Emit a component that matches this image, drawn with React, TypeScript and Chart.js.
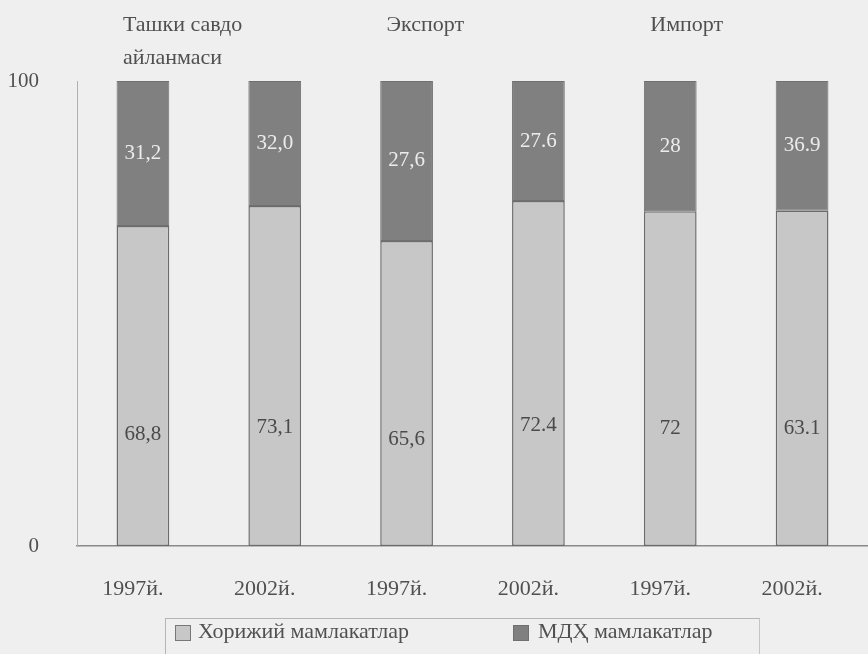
import React, { useEffect, useRef } from "react";
import { Chart, registerables } from "chart.js";

Chart.register(...registerables);

// ---- data ----
const categories = ["1997й.", "2002й.", "1997й.", "2002й.", "1997й.", "2002й."];
const groupTitles = [["Ташки савдо", "айланмаси"], ["Экспорт"], ["Импорт"]];
const groupStartIndex = [0, 2, 4];
const seriesNames = ["Хорижий мамлакатлар", "МДҲ мамлакатлар"];
// segment heights as drawn (percent of the 0–100 axis)
const foreignValues = [68.8, 73.1, 65.6, 74.2, 72, 72.1];
const cisValues = [31.2, 26.9, 34.4, 25.8, 28, 27.9];
// labels as printed on the bars
const foreignLabels = ["68,8", "73,1", "65,6", "72.4", "72", "63.1"];
const cisLabels = ["31,2", "32,0", "27,6", "27.6", "28", "36.9"];
const yMin = 0;
const yMax = 100;

const FONT = "'Liberation Serif', 'DejaVu Serif', serif";
const TEXT = "#505050";
const LIGHT = "#c7c7c7";
const DARK = "#808080";

const headerPlugin = {
  id: "groupHeaders",
  afterDraw(chart: any) {
    const ctx = chart.ctx;
    const xs = chart.scales.x;
    ctx.save();
    ctx.font = `22px ${FONT}`;
    ctx.fillStyle = TEXT;
    ctx.textAlign = "left";
    ctx.textBaseline = "middle";
    groupTitles.forEach((lines, g) => {
      const x = xs.getPixelForValue(groupStartIndex[g]) - 20;
      lines.forEach((line, i) => ctx.fillText(line, x, 25 + i * 33));
    });
    ctx.restore();
  },
};

const valueLabelPlugin = {
  id: "valueLabels",
  afterDatasetsDraw(chart: any) {
    const ctx = chart.ctx;
    ctx.save();
    ctx.font = `21px ${FONT}`;
    ctx.textAlign = "center";
    ctx.textBaseline = "middle";
    chart.data.datasets.forEach((ds: any, di: number) => {
      const meta = chart.getDatasetMeta(di);
      meta.data.forEach((bar: any, i: number) => {
        const top = bar.y;
        const base = bar.base;
        if (di === 0) {
          ctx.fillStyle = "#4a4a4a";
          ctx.fillText(foreignLabels[i], bar.x, base - 0.35 * (base - top));
        } else {
          ctx.fillStyle = "#ececec";
          ctx.fillText(cisLabels[i], bar.x, (top + base) / 2);
        }
      });
    });
    ctx.restore();
  },
};

export default function App() {
  const canvasRef = useRef<HTMLCanvasElement | null>(null);

  useEffect(() => {
    document.body.style.margin = "0";
    const canvas = canvasRef.current;
    if (!canvas) return;
    const chart = new Chart(canvas, {
      type: "bar",
      data: {
        labels: categories,
        datasets: [
          {
            label: seriesNames[0],
            data: foreignValues,
            backgroundColor: LIGHT,
            borderColor: "#6c6c6c",
            borderWidth: 1.5,
            borderSkipped: false,
          },
          {
            label: seriesNames[1],
            data: cisValues,
            backgroundColor: DARK,
            borderColor: "#707070",
            borderWidth: 1,
            borderSkipped: false,
          },
        ],
      },
      options: {
        responsive: false,
        animation: false,
        devicePixelRatio: 1,
        layout: { padding: { top: 81, left: 0, right: 0, bottom: 0 } },
        datasets: { bar: { categoryPercentage: 1, barPercentage: 0.4 } },
        plugins: {
          legend: { display: false },
          tooltip: { enabled: false },
          title: { display: false },
        },
        scales: {
          x: {
            stacked: true,
            offset: true,
            grid: { display: false },
            border: { display: true, color: "#8a8a8a", width: 1.5 },
            ticks: {
              font: { family: FONT, size: 22 },
              color: TEXT,
              padding: 22,
              labelOffset: -10,
              maxRotation: 0,
            },
            afterFit(scale: any) {
              scale.height = 108;
            },
          },
          y: {
            stacked: true,
            min: yMin,
            max: yMax,
            grid: { display: false },
            border: { display: true, color: "#b0b0b0", width: 1 },
            ticks: {
              stepSize: yMax - yMin,
              font: { family: FONT, size: 21 },
              color: TEXT,
              padding: 30,
            },
            afterFit(scale: any) {
              scale.width = 77;
            },
          },
        },
      },
      plugins: [headerPlugin, valueLabelPlugin],
    });
    return () => chart.destroy();
  }, []);

  const swatch = (color: string, border: string) => ({
    position: "absolute" as const,
    top: 5,
    width: 14,
    height: 14,
    background: color,
    border: `1px solid ${border}`,
  });

  const legendText = {
    position: "absolute" as const,
    top: 0,
    font: `22px ${FONT}`,
    color: TEXT,
    lineHeight: "24px",
    whiteSpace: "nowrap" as const,
  };

  return (
    <div
      style={{
        position: "relative",
        width: 868,
        height: 654,
        background: "#efefef",
        overflow: "hidden",
      }}
    >
      <canvas ref={canvasRef} width={868} height={654} style={{ display: "block" }} />
      <div
        style={{
          position: "absolute",
          left: 165,
          top: 618,
          width: 595,
          height: 60,
          borderTop: "1px solid #b5b5b5",
          borderLeft: "1px solid #b5b5b5",
          borderRight: "1px solid #c5c5c5",
          boxSizing: "border-box",
        }}
      >
        <div style={{ position: "absolute", left: 9, top: 1 }}>
          <div style={swatch(LIGHT, "#777")} />
        </div>
        <div style={{ ...legendText, left: 32 }}>{seriesNames[0]}</div>
        <div style={{ position: "absolute", left: 347, top: 1 }}>
          <div style={swatch(DARK, "#707070")} />
        </div>
        <div style={{ ...legendText, left: 372 }}>{seriesNames[1]}</div>
      </div>
    </div>
  );
}
